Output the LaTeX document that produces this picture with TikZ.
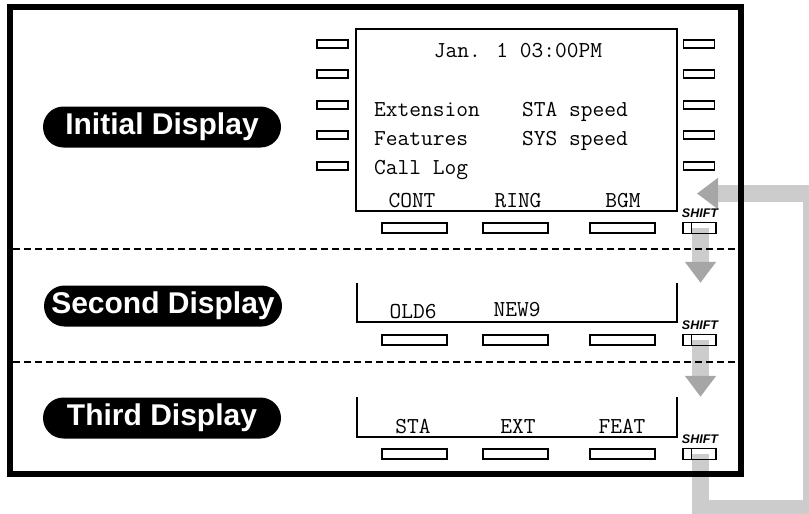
\documentclass[tikz,border=0pt]{standalone}
\usepackage{fontspec}
\setmainfont{Liberation Sans}
\definecolor{flowgray}{RGB}{204,204,204}
\definecolor{tipgray}{RGB}{166,166,166}
\usetikzlibrary{arrows.meta,positioning,calc,backgrounds}
\tikzset{
  sidekey/.style={draw, line width=1.1pt, minimum width=31pt, minimum height=8pt, inner sep=0pt},
  softkey/.style={draw, line width=1.1pt, minimum width=65pt, minimum height=10pt, inner sep=0pt},
  shiftkey/.style={draw, line width=1.1pt, minimum width=33pt, minimum height=11pt, inner sep=0pt},
  lcd/.style={font=\ttfamily\fontsize{22.8}{26}\selectfont, inner sep=0pt},
  pill/.style={fill=black, text=white, rounded corners=20.5pt, minimum width=238pt,
               minimum height=41pt, inner sep=0pt, font=\fontsize{30}{36}\selectfont\bfseries},
  shiftlbl/.style={font=\fontsize{12.5}{14}\selectfont\bfseries\itshape, inner sep=0pt, anchor=base},
  flow/.style={draw=flowgray, line width=17pt},
  flowtip/.style={-{Triangle[length=21pt,width=30pt,color=tipgray]}}
}

\begin{document}
\begin{tikzpicture}[x=1pt, y=-1pt]
    \useasboundingbox (0,0) rectangle (809,514);
    \clip (0,0) rectangle (809,514);
    % Outer frame
    \node[draw, line width=5.5pt, minimum width=731pt, minimum height=467pt, inner sep=0pt]
      (frame) at (375.5,240.5) {};
    % Dividers
    \draw[line width=1.2pt, dash pattern=on 7pt off 4pt] (13,249) -- (738,249);
    \draw[line width=1.2pt, dash pattern=on 7pt off 4pt] (13,362) -- (738,362);

    % Display names
    \node[pill] (initLbl) at (162,127) {Initial Display};
    \node[pill] (secLbl) at (163,306) {Second Display};
    \node[pill] (thirdLbl) at (162,418) {Third Display};

    % Screens
    \node[draw, line width=2.5pt, minimum width=321pt, minimum height=182pt, inner sep=0pt]
      (scrA) at (516.5,120) {};
    \node[minimum width=320pt, minimum height=39pt, inner sep=0pt] (scrB) at (517,302.5) {};
    \node[minimum width=320pt, minimum height=40pt, inner sep=0pt] (scrC) at (517,417) {};
    \draw[line width=2.2pt] (scrB.north west) |- (scrB.south east) -- (scrB.north east);
    \draw[line width=2.2pt] (scrC.north west) |- (scrC.south east) -- (scrC.north east);

    % Side keys
    \foreach \y [count=\i] in {44,74,105,135,166} {
      \node[sidekey] (lk\i) at (332.5,\y) {};
      \node[sidekey] (rk\i) at (699,\y) {};
    }
    % Soft keys and SHIFT keys
    \foreach \row/\y in {A/228,B/340,C/454} {
      \foreach \x [count=\i] in {414.5,515.5,622.5}
        \node[softkey] (sk\row\i) at (\x,\y) {};
      \node[shiftkey] (shift\row) at (699.5,\y) {};
      \draw[line width=1.1pt] ([xshift=9pt]shift\row.north west) -- ([xshift=9pt]shift\row.south west);
      \node[shiftlbl] (shiftLbl\row) at ($(shift\row.north)+(0.5,-4)$) {SHIFT};
    }

    % Screen texts
    \node[lcd, anchor=base] (dateTxt) at (518,57) {Jan. 1 03:00PM};
    \node[lcd, anchor=base west] (extTxt) at (374,116) {Extension};
    \node[lcd, anchor=base west] (staTxt) at (522,116) {STA speed};
    \node[lcd, anchor=base west] (featTxt) at (374,145) {Features};
    \node[lcd, anchor=base west] (sysTxt) at (522,145) {SYS speed};
    \node[lcd, anchor=base west] (logTxt) at (374,174) {Call Log};
    \node[lcd, anchor=base] (contTxt) at (412,207) {CONT};
    \node[lcd, anchor=base] (ringTxt) at (518,207) {RING};
    \node[lcd, anchor=base] (bgmTxt) at (623,207) {BGM};
    \node[lcd, anchor=base] (oldTxt) at (413,318) {OLD6};
    \node[lcd, anchor=base] (newTxt) at (517,316) {NEW9};
    \node[lcd, anchor=base] (staKey) at (413,433) {STA};
    \node[lcd, anchor=base] (extKey) at (518,433) {EXT};
    \node[lcd, anchor=base] (featKey) at (622,433) {FEAT};

    % SHIFT flow
    \coordinate (loopB) at (811.5,508);
    \coordinate (loopT) at (811.5,193.5);
    \coordinate (backTip) at (697,193.5);
    \begin{scope}[on background layer]
      \draw[flow, flowtip] ([xshift=1pt]shiftA.center) -- ([xshift=1pt]shiftA.center |- scrB.north);
      \draw[flow, flowtip] ([xshift=1pt]shiftB.center) -- ([xshift=1pt]shiftB.center |- scrC.north);
      \draw[flow, flowtip] ([xshift=1pt]shiftC.center) |- (loopB) -- (loopT) -- (backTip);
    \end{scope}
\end{tikzpicture}
\end{document}
